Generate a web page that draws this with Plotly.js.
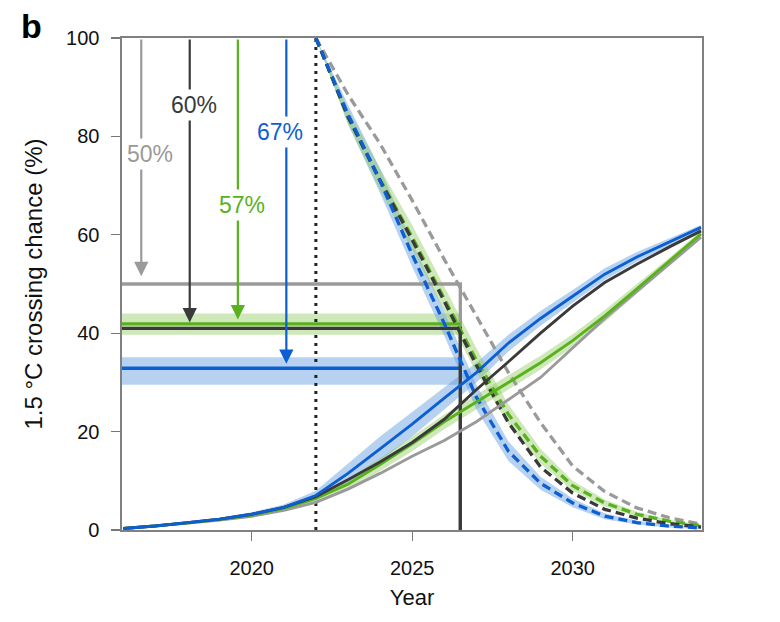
<!DOCTYPE html>
<html>
<head>
<meta charset="utf-8">
<script src="https://cdn.plot.ly/plotly-3.0.1.min.js"></script>
<style>html,body{margin:0;padding:0;background:#fff;}#chart{width:780px;height:622px;}</style>
</head>
<body>
<div id="chart"></div>
<script>
// ---- data ----
const riseYears = [2016,2017,2018,2019,2020,2021,2022,2023,2024,2025,2026,2027,2028,2029,2030,2031,2032,2033,2034];
const blueRise  = [0.3,0.8,1.5,2.2,3.2,4.6,7.0,11.5,16.5,21.5,26.8,32.0,38.0,43.0,47.5,52.0,55.5,58.5,61.5];
const blueRiseLo= [0.2,0.6,1.2,1.9,2.8,4.0,6.0,9.5,14.0,19.0,24.5,30.0,36.3,41.5,46.2,50.8,54.5,57.8,61.0];
const blueRiseHi= [0.4,1.0,1.8,2.5,3.6,5.2,8.0,13.5,19.0,24.0,29.0,34.0,39.7,44.5,48.8,53.2,56.5,59.2,62.0];
const blackRise = [0.3,0.8,1.5,2.2,3.2,4.6,6.8,10.2,13.8,17.8,22.5,28.5,34.2,40.0,45.5,50.3,54.0,57.5,60.8];
const greenRise = [0.3,0.8,1.4,2.1,3.0,4.4,6.4,9.3,13.3,17.5,22.0,26.0,30.0,34.0,38.5,43.5,49.0,54.5,60.2];
const greenRiseLo=[0.2,0.6,1.2,1.8,2.6,3.8,5.6,8.2,12.0,16.0,20.5,24.5,28.5,32.6,37.2,42.3,48.0,53.7,59.6];
const greenRiseHi=[0.4,1.0,1.6,2.4,3.4,5.0,7.2,10.4,14.6,19.0,23.5,27.5,31.5,35.4,39.8,44.7,50.0,55.3,60.8];
const grayRise  = [0.3,0.8,1.4,2.0,2.8,4.0,5.6,8.3,11.5,15.0,18.2,22.0,26.5,31.0,37.0,43.0,48.5,54.0,59.5];

const fallYears = [2022,2023,2024,2025,2026,2027,2028,2029,2030,2031,2032,2033,2034];
const blueFall  = [100,84.5,71.0,56.0,42.0,27.0,16.0,9.5,5.5,2.8,1.5,0.8,0.4];
const blueFallLo= [100,82.5,68.5,53.5,39.5,24.5,14.0,8.2,4.6,2.2,1.1,0.5,0.2];
const blueFallHi= [100,86.5,73.5,58.5,44.5,29.5,18.0,10.8,6.4,3.4,1.9,1.1,0.6];
const blackFall = [100,84.0,71.0,59.0,46.5,33.5,21.8,12.8,7.5,4.2,2.4,1.3,0.6];
const greenFall = [100,84.0,71.2,59.5,47.0,34.5,23.5,15.0,9.0,5.5,3.2,1.8,0.9];
const greenFallLo=[100,82.5,69.0,57.0,44.5,32.0,21.5,13.5,8.0,4.8,2.7,1.5,0.7];
const greenFallHi=[100,85.5,73.5,62.0,49.5,37.0,25.5,16.5,10.0,6.2,3.7,2.1,1.1];
const grayFall  = [100,88.5,78.5,67.0,55.0,43.5,32.0,21.8,13.0,7.8,4.5,2.5,1.2];

// threshold levels (chance %) and crossing year
const levelNames  = ['gray','black','green','blue'];
const levelLabels = ['50%','60%','57%','67%'];
const levelValue  = [50, 41.0, 41.9, 32.9];
const levelLo     = [null, null, 39.7, 29.5];
const levelHi     = [null, null, 44.0, 35.1];
const crossYear   = 2026.5;
const todayYear   = 2022;

const xTicks = [2020, 2025, 2030];
const yTicks = [0, 20, 40, 60, 80, 100];

// ---- styles ----
const C = {
  blue: '#0c5fd2', green: '#58b21c', black: '#3a3a3a', gray: '#9a9a9a',
  blueBand: 'rgba(95,155,222,0.45)', greenBand: 'rgba(140,200,90,0.42)'
};
const X0 = 2015.96, X1 = 2034.03;
const FONT = 'Liberation Sans, Arial, sans-serif';

const traces = [];
function band(x, lo, hi, col) {
  traces.push({x: x, y: lo, mode: 'lines', line: {width: 0, color: col}, hoverinfo: 'skip', showlegend: false});
  traces.push({x: x, y: hi, mode: 'lines', line: {width: 0, color: col}, fill: 'tonexty', fillcolor: col, hoverinfo: 'skip', showlegend: false});
}
function line(x, y, col, w, dash) {
  traces.push({x: x, y: y, mode: 'lines', line: {color: col, width: w, dash: dash || 'solid'}, hoverinfo: 'skip', showlegend: false});
}

// horizontal bands
const xs = [X0, crossYear];
band(xs, [levelLo[2], levelLo[2]], [levelHi[2], levelHi[2]], C.greenBand);
band(xs, [levelLo[3], levelLo[3]], [levelHi[3], levelHi[3]], C.blueBand);
// curve bands
band(riseYears, blueRiseLo, blueRiseHi, C.blueBand);
band(riseYears, greenRiseLo, greenRiseHi, C.greenBand);
band(fallYears, blueFallLo, blueFallHi, C.blueBand);
band(fallYears, greenFallLo, greenFallHi, C.greenBand);

// today dotted line
line([todayYear, todayYear], [0, 100], '#222', 3, '3px,5px');

// horizontal levels
line([X0, crossYear, crossYear], [levelValue[0], levelValue[0], 0], C.gray, 3.3);
line([X0, crossYear], [levelValue[2], levelValue[2]], C.green, 3.3);
line([X0, crossYear], [levelValue[3], levelValue[3]], C.blue, 3.5);
line([X0, crossYear, crossYear], [levelValue[1], levelValue[1], 0], C.black, 3.3);

// falling dashed
const DASH = '9px,5px';
line(fallYears, grayFall, C.gray, 3.3, DASH);
line(fallYears, greenFall, C.green, 3.3, DASH);
line(fallYears, blackFall, C.black, 3.3, DASH);
line(fallYears, blueFall, C.blue, 3.3, DASH);

// rising solid
line(riseYears, grayRise, C.gray, 2.9);
line(riseYears, greenRise, C.green, 2.9);
line(riseYears, blackRise, C.black, 2.9);
line(riseYears, blueRise, C.blue, 2.9);

// arrows + labels
const arrowX  = [2016.56, 2018.07, 2019.57, 2021.08];
const arrowTip= [51.6, 42.2, 42.8, 33.8];
const labelX  = [2016.83, 2018.2, 2019.71, 2020.88];
const labelY  = [76.5, 86.3, 66.0, 80.8];
const colOf = {gray: C.gray, black: C.black, green: C.green, blue: C.blue};
const annotations = [];
levelNames.forEach((n, i) => {
  annotations.push({x: arrowX[i], y: arrowTip[i], ax: arrowX[i], ay: 100, xref: 'x', yref: 'y', axref: 'x', ayref: 'y',
    text: '', showarrow: true, arrowhead: 2, arrowsize: 1.3, arrowwidth: 2.2, arrowcolor: colOf[n], standoff: 0, startstandoff: 0});
});
levelNames.forEach((n, i) => {
  annotations.push({x: labelX[i], y: labelY[i], xref: 'x', yref: 'y', text: levelLabels[i], showarrow: false,
    font: {family: FONT, size: 23, color: colOf[n]}, bgcolor: '#ffffff', borderpad: 2});
});
annotations.push({x: -0.178, y: 1, xref: 'paper', yref: 'paper', xanchor: 'left', yanchor: 'bottom', yshift: -9,
  text: '<b>b</b>', showarrow: false, font: {family: FONT, size: 34, color: '#000'}});

const layout = {
  width: 780, height: 622,
  margin: {l: 122, r: 78, t: 38, b: 92},
  paper_bgcolor: '#fff', plot_bgcolor: '#fff',
  showlegend: false, hovermode: false,
  font: {family: FONT, color: '#111'},
  xaxis: {
    range: [X0, X1], tickvals: xTicks, ticktext: xTicks.map(String),
    ticks: 'outside', ticklen: 9, tickwidth: 1.2, tickcolor: '#777',
    showline: true, linecolor: '#808080', linewidth: 1.6, mirror: true,
    showgrid: false, zeroline: false, ticklabelstandoff: 10,
    tickfont: {family: FONT, size: 20, color: '#111'},
    title: {text: 'Year', font: {family: FONT, size: 22, color: '#111'}, standoff: 12}
  },
  yaxis: {
    range: [0, 100], tickvals: yTicks, ticktext: yTicks.map(String),
    ticks: 'outside', ticklen: 9, tickwidth: 1.2, tickcolor: '#777',
    showline: true, linecolor: '#808080', linewidth: 1.6, mirror: true,
    showgrid: false, zeroline: false, ticklabelstandoff: 8,
    tickfont: {family: FONT, size: 20, color: '#111'},
    title: {text: '1.5 °C crossing chance (%)', font: {family: FONT, size: 24, color: '#111'}, standoff: 16}
  },
  annotations: annotations
};

Plotly.newPlot('chart', traces, layout, {staticPlot: true, displayModeBar: false});
</script>
</body>
</html>
